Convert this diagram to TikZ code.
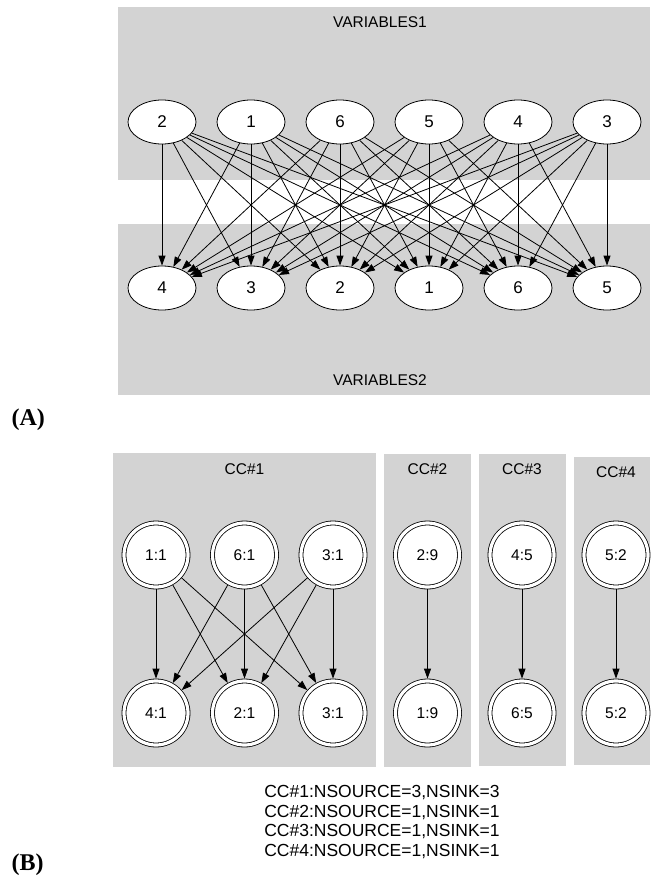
\documentclass[tikz,border=0pt]{standalone}
\usepackage{fontspec}
\setmainfont{Liberation Sans}
\newfontfamily\timesfont{Liberation Serif}
\usetikzlibrary{arrows.meta,shapes.geometric}
\definecolor{lgray}{HTML}{D3D3D3}
\begin{document}
\begin{tikzpicture}[x=1pt,y=-1pt,
  every node/.style={font=\fontsize{15.5}{18}\selectfont},
  ell/.style={ellipse, draw, fill=white, minimum width=68pt, minimum height=44pt, inner sep=0pt, line width=0.8pt, font=\fontsize{17}{18}\selectfont},
  dc/.style={circle, draw, fill=white, minimum size=64pt, inner sep=0pt, double=white, double distance=3.2pt, line width=0.8pt, outer sep=2.4pt, font=\fontsize{15.5}{18}\selectfont},
  arr/.style={-{Triangle[length=10pt,width=7pt]}, line width=0.8pt},
  lab/.style={font=\fontsize{15.5}{18}\selectfont},
  panel/.style={font=\timesfont\bfseries\fontsize{24}{26}\selectfont, anchor=west}]
\useasboundingbox (0,0) rectangle (650,880);
% ---- Part A ----
\fill[lgray] (118,7) rectangle (650,180);
\fill[lgray] (118,224) rectangle (650,395);
\node[lab] (v1) at (380,22) {VARIABLES1};
\node[lab] (v2) at (380,380) {VARIABLES2};
\foreach \n [count=\i] in {2,1,6,5,4,3}
  \node[ell] (t\n) at ({73+89*\i},122) {\n};
\foreach \n [count=\i] in {4,3,2,1,6,5}
  \node[ell] (b\n) at ({73+89*\i},288) {\n};
\foreach \a in {1,...,6}
  \foreach \b in {1,...,6}
    \draw[arr] (t\a) -- (b\b);
\node[panel] (pA) at (8,420) {(A)};
% ---- Part B ----
\fill[lgray] (113,453) rectangle (376,767);
\fill[lgray] (384,454) rectangle (471,767);
\fill[lgray] (479,454) rectangle (566,766);
\fill[lgray] (574,457) rectangle (650,765);
\node[lab] (l1) at (244.5,469) {CC\#1};
\node[lab] (l2) at (427.5,469) {CC\#2};
\node[lab] (l3) at (522,469) {CC\#3};
\node[lab] (l4) at (616,472) {CC\#4};
\node[dc] (s11) at (156,555) {1:1};
\node[dc] (s61) at (244.5,555) {6:1};
\node[dc] (s31) at (333,555) {3:1};
\node[dc] (k41) at (156,713) {4:1};
\node[dc] (k21) at (244.5,713) {2:1};
\node[dc] (k31) at (333,713) {3:1};
\node[dc] (s29) at (427.5,555) {2:9};
\node[dc] (k19) at (427.5,713) {1:9};
\node[dc] (s45) at (522,555) {4:5};
\node[dc] (k65) at (522,713) {6:5};
\node[dc] (s52) at (616,555) {5:2};
\node[dc] (k52) at (616,713) {5:2};
\foreach \a in {s11,s61,s31}
  \foreach \b in {k41,k21,k31}
    \draw[arr] (\a) -- (\b);
\draw[arr] (s29) -- (k19);
\draw[arr] (s45) -- (k65);
\draw[arr] (s52) -- (k52);
\node[font=\fontsize{17.5}{19.5}\selectfont, align=center] (stats) at (382,822)
  {CC\#1:NSOURCE=3,NSINK=3\\CC\#2:NSOURCE=1,NSINK=1\\CC\#3:NSOURCE=1,NSINK=1\\CC\#4:NSOURCE=1,NSINK=1};
\node[panel] (pB) at (8,865) {(B)};
\end{tikzpicture}
\end{document}
